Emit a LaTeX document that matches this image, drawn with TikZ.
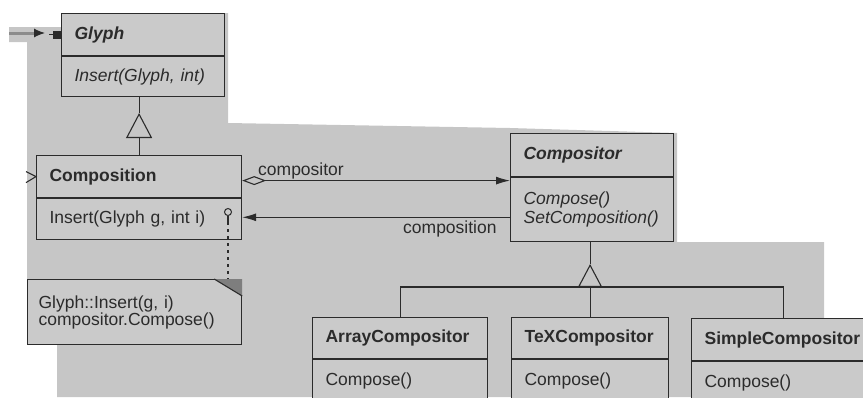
\documentclass[tikz,border=0pt]{standalone}
\usepackage{fontspec}
\setmainfont{Liberation Sans}
\usetikzlibrary{arrows.meta,positioning}
\definecolor{ink}{HTML}{2B2B2B}
\definecolor{paper}{HTML}{C6C6C6}
\definecolor{boxgray}{HTML}{CACACA}
\definecolor{fold}{HTML}{7E7E7E}
\definecolor{feedgray}{HTML}{8C8C8C}
\begin{document}
\fontsize{17.5}{19}\selectfont
\begin{tikzpicture}[x=1pt, y=-1pt, >=Latex, node distance=0pt,
  hd/.style={draw=ink, line width=1.2pt, fill=boxgray, text=ink, align=left, inner xsep=13pt, inner ysep=0pt,
    minimum height=42pt, text width=#1, anchor=north west, font=\bfseries},
  ops/.style={draw=ink, line width=1.2pt, fill=boxgray, text=ink, align=left, inner xsep=13pt, inner ysep=0pt, text width=#1},
  note/.style={draw=ink, line width=1.2pt, fill=boxgray, text=ink, align=left, inner xsep=11pt, anchor=north west,
    text width=192pt, minimum height=65pt, font=\fontsize{17.5}{17}\selectfont},
  e/.style={draw=ink, line width=1.1pt},
  lbl/.style={text=ink, inner sep=0pt}]
\path[use as bounding box] (0,0) rectangle (863,397);
\clip (0,0) rectangle (863,397);
\fill[paper] (9,27) -- (61,27) -- (61,13) -- (228,13) -- (228,123) -- (510,128) -- (677,133) -- (677,242)
  -- (824,242) -- (824,318) -- (863,318) -- (863,397) -- (57,397) -- (57,344) -- (27,344) -- (27,42) -- (9,42) -- cycle;

\node[hd=137, font=\bfseries\itshape] (glyph) at (61,13) {Glyph};
\node[ops=137, minimum height=40pt, font=\itshape, below=of glyph] (glyphops) {Insert(Glyph, int)};
\node[hd=179] (composition) at (36,155) {Composition};
\node[ops=179, minimum height=41pt, below=of composition] (compositionops) {Insert(Glyph g, int i)};
\node[hd=137, minimum height=43pt, font=\bfseries\itshape] (compositor) at (510,133) {Compositor};
\node[ops=137, minimum height=64pt, font=\itshape, below=of compositor] (compositorops) {Compose()\\SetComposition()};
\node[hd=149, minimum height=41pt] (array) at (312,317) {ArrayCompositor};
\node[ops=149, minimum height=42pt, below=of array] (arrayops) {Compose()};
\node[hd=131, minimum height=41pt] (tex) at (511,317) {TeXCompositor};
\node[ops=131, minimum height=42pt, below=of tex] (texops) {Compose()};
\node[hd=158, minimum height=42pt] (simple) at (691,318) {SimpleCompositor};
\node[ops=158, minimum height=42pt, below=of simple] (simpleops) {Compose()};
\node[note] (note) at (27,279) {Glyph::Insert(g, i)\\compositor.Compose()};
\fill[fold] ([xshift=-28pt]note.north east) -- (note.north east) -- ([yshift=-17pt]note.north east) -- cycle;
\draw[e] ([xshift=-28pt]note.north east) -- ([yshift=-17pt]note.north east);

\draw[e, -{Triangle[open, length=25pt, width=26pt]}] (composition.north) -- ++(0,-42) coordinate (gtip);
\draw[e] (gtip) -- (gtip |- glyphops.south);
\draw[e] (tex.north) -- ++(0,-30) coordinate (bar);
\draw[e] (array.north) |- (bar) -| (simple.north);
\draw[e, -{Triangle[open, length=23pt, width=24pt]}] (bar) -- ++(0,-23) coordinate (ctip);
\draw[e] (ctip) -- (ctip |- compositorops.south);

\coordinate (fwd) at ([yshift=-4pt]composition.east);
\coordinate (back) at ([yshift=2pt]compositionops.east);
\draw[e, {Diamond[open, length=24pt, width=9pt]}-{Latex[length=14pt, width=8pt]}] (fwd) -- (fwd -| compositor.west);
\draw[e, -{Latex[length=14pt, width=8pt]}] (back -| compositorops.west) -- (back);
\node[lbl, anchor=base west] (fwdlabel) at (258,175) {compositor};
\node[lbl, anchor=base west] (backlabel) at (403,233) {composition};

\node[draw=ink, circle, line width=1pt, inner sep=0pt, minimum size=7pt] (hook) at (228,212) {};
\draw[e] (hook.south) -- ++(0,6) coordinate (hookend);
\draw[ink, line width=2pt, dash pattern=on 3pt off 4pt] (hookend) -- (hookend |- note.north);

\coordinate (feed) at (9,33);
\draw[line width=3pt, draw=feedgray] (feed) -- ++(25,0) coordinate (feedend);
\draw[e, -{Latex[length=11pt, width=9pt]}] (feedend) -- ++(11,0);
\draw[e, {Square[fill=ink, length=8pt, width=8pt]}-] (glyph.west) -- ++(-12,0);
\draw[e] ([xshift=-10pt, yshift=5pt]composition.west) -- (composition.west) -- ([xshift=-10pt, yshift=-6pt]composition.west);
\end{tikzpicture}
\end{document}
